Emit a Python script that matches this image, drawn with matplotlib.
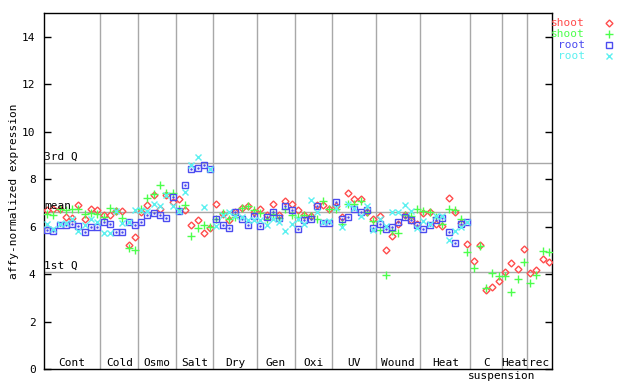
import matplotlib
matplotlib.use("Agg")
import matplotlib.pyplot as plt
import numpy as np

# group layout of the samples along x
groups = ["Cont", "Cold", "Osmo", "Salt", "Dry", "Gen", "Oxi", "UV", "Wound", "Heat", "C", "Heat", "rec"]
group_sizes = [9, 6, 6, 6, 7, 6, 6, 7, 7, 8, 5, 4, 4]

q1, mean_val, q3 = 4.09, 6.63, 8.70

shoot_red = [
    6.72, 6.76, 6.75, 6.42, 6.38, 6.90, 6.33, 6.76, 6.72,
    6.50, 6.48, 6.66, 6.67, 5.23, 5.57,
    6.60, 6.92, 7.33, 6.75, 7.35, 7.04,
    7.18, 6.71, 6.08, 6.29, 5.74, 5.93,
    6.96, 6.52, 6.29, 6.63, 6.79, 6.88, 6.63,
    6.75, 6.48, 6.96, 6.50, 7.09, 6.96,
    6.71, 6.50, 6.46, 6.90, 6.92, 6.75,
    6.85, 6.41, 7.40, 7.18, 7.15, 6.63, 6.30,
    6.46, 5.02, 5.61, 6.12, 6.50, 6.29, 6.12,
    6.58, 6.63, 6.12, 6.03, 7.22, 6.63, 6.16, 5.27,
    4.54, 5.23, 3.33, 3.45, 3.71,
    4.09, 4.47, 4.22, 5.06,
    4.05, 4.17, 4.64, 4.51,
]
shoot_green = [
    6.53, 6.50, 6.75, 6.72, 6.75, 6.75, 6.55, 6.58, 6.51,
    6.40, 6.79, 6.64, 6.36, 5.10, 5.02,
    6.75, 7.22, 7.38, 7.74, 7.43, 7.43,
    6.75, 6.89, 5.61, 5.95, 6.07, 5.99,
    6.33, 6.56, 6.33, 6.41, 6.79, 6.88, 6.71,
    6.58, 6.33, 6.54, 6.37, 6.75, 6.50,
    6.41, 6.50, 6.45, 6.33, 7.09, 6.75,
    6.75, 6.12, 6.96, 6.96, 7.09, 6.60, 6.24,
    5.86, 3.96, 5.80, 5.74, 6.50, 6.46, 6.75,
    6.67, 6.63, 6.40, 6.12, 6.75, 6.71, 6.33, 4.93,
    4.26, 5.19, 3.41, 4.05, 3.92,
    3.92, 3.24, 3.79, 4.51,
    3.62, 3.96, 4.98, 4.93,
]
root_blue = [
    5.86, 5.82, 6.06, 6.06, 6.09, 6.03, 5.78, 5.99, 5.99,
    6.20, 6.09, 5.78, 5.78, 6.20, 6.07,
    6.19, 6.50, 6.58, 6.50, 6.37, 7.26,
    6.67, 7.77, 8.44, 8.49, 8.61, 8.44,
    6.33, 6.07, 5.95, 6.63, 6.33, 6.07, 6.46,
    6.03, 6.41, 6.63, 6.37, 6.88, 6.71,
    5.91, 6.29, 6.33, 6.88, 6.16, 6.16,
    7.05, 6.33, 6.41, 6.75, 6.63, 6.71, 5.95,
    6.12, 5.91, 5.99, 6.20, 6.41, 6.29, 6.07,
    5.91, 6.07, 6.29, 6.37, 5.78, 5.31, 6.12, 6.20,
]
root_cyan = [
    6.12, 5.91, 6.10, 6.14, 6.33, 5.82, 6.06, 6.33, 6.20,
    5.72, 5.72, 6.64, 6.16, 6.18, 6.71,
    6.70, 6.67, 6.96, 6.88, 7.32, 6.85,
    6.67, 7.47, 8.61, 8.95, 6.84, 8.41,
    6.03, 6.50, 6.60, 6.45, 6.40, 6.29, 6.29,
    6.29, 6.07, 6.30, 6.20, 5.82, 6.12,
    6.30, 6.10, 7.13, 6.63, 6.20, 6.24,
    6.80, 5.99, 6.96, 6.80, 6.46, 6.88, 5.86,
    6.30, 6.03, 6.63, 6.63, 6.92, 6.67, 5.95,
    6.24, 6.10, 6.46, 6.46, 5.44, 5.82, 5.99, 6.20,
]

RED, GREEN, BLUE, CYAN = "#ff4c4c", "#4cff4c", "#4c4cf0", "#5cf0f0"
GRID = "#a8a8a8"
MONO = "DejaVu Sans Mono"

fig = plt.figure(figsize=(6.4, 3.84), dpi=100)
ax = fig.add_axes([44 / 640, 15 / 384, 508 / 640, 356 / 384])

n = len(shoot_red)
edges = np.concatenate([[0], np.cumsum(group_sizes)]) - 0.5

# grid lines
for e in edges[1:-1]:
    ax.axvline(e, color=GRID, lw=1, zorder=1)
for v in (q1, mean_val, q3):
    ax.axhline(v, color=GRID, lw=1, zorder=1)

ax.plot(range(n), shoot_red, ls="none", marker="D", ms=3.5, mfc="none", mec=RED, mew=1, zorder=3)
ax.plot(range(n), shoot_green, ls="none", marker="+", ms=6, mec=GREEN, mew=1, zorder=3)
ax.plot(range(len(root_blue)), root_blue, ls="none", marker="s", ms=4.5, mfc="none", mec=BLUE, mew=1, zorder=3)
ax.plot(range(len(root_blue)), root_blue, ls="none", marker=".", ms=1.5, color=BLUE, zorder=3)
ax.plot(range(len(root_cyan)), root_cyan, ls="none", marker="x", ms=4.5, mec=CYAN, mew=1, zorder=3)

# quartile labels
ax.text(-0.45, q3 + 0.05, "3rd Q", fontsize=8, family=MONO, va="bottom", ha="left")
ax.text(-0.45, mean_val + 0.02, "mean", fontsize=8, family=MONO, va="bottom", ha="left")
ax.text(-0.45, q1 + 0.05, "1st Q", fontsize=8, family=MONO, va="bottom", ha="left")

# group labels
for name, a, b in zip(groups, edges[:-1], edges[1:]):
    ax.text((a + b) / 2, 0.25, name, fontsize=8, family=MONO, ha="center", va="center")
ax.text(edges[11], -0.3, "suspension", fontsize=8, family=MONO, ha="center", va="center", clip_on=False)

ax.set_xlim(edges[0], edges[-1])
ax.set_ylim(0, 15)
ax.set_xticks([])
ax.set_yticks(range(0, 15, 2))
ax.tick_params(axis="y", direction="in", length=5, width=1, right=True, labelsize=8, pad=6)
for lbl in ax.get_yticklabels():
    lbl.set_family(MONO)
for sp in ax.spines.values():
    sp.set_color("black")
    sp.set_linewidth(1)
ax.set_ylabel("affy-normalized expression", fontsize=8, family=MONO, labelpad=2)

# legend outside on the right
leg_items = [("shoot", RED, "D", 3.5), ("shoot", GREEN, "+", 6), ("root", BLUE, "s", 4.5), ("root", CYAN, "x", 4.5)]
for k, (txt, col, mk, ms) in enumerate(leg_items):
    y = 1 - (23 + 11 * k) / 384
    fig.text(585 / 640, y, txt, color=col, fontsize=8, family=MONO, ha="right", va="center")
    fig.lines.append(plt.Line2D([609 / 640], [y], transform=fig.transFigure, ls="none", marker=mk, ms=ms,
                                mfc="none", mec=col, mew=1))

fig.savefig("out.png", dpi=100)
